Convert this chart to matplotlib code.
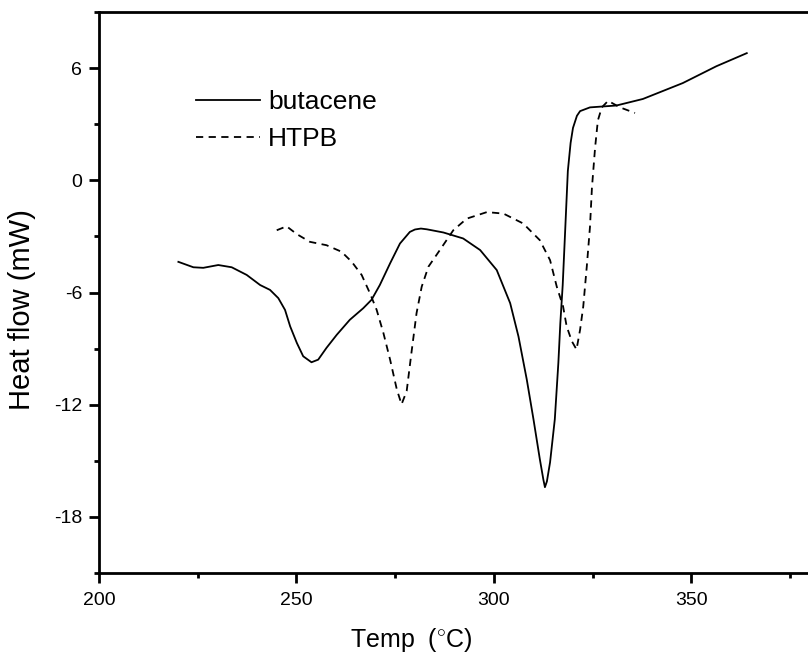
import numpy as np
import matplotlib
matplotlib.use("Agg")
import matplotlib.pyplot as plt
from matplotlib.ticker import MultipleLocator

plt.rcParams['font.family'] = ['Liberation Sans', 'DejaVu Sans']
plt.rcParams['mathtext.fontset'] = 'custom'
plt.rcParams['mathtext.rm'] = 'Liberation Sans'
plt.rcParams['axes.unicode_minus'] = False

# butacene DSC curve
but_t = [220.1, 223.9, 226.4, 230.2, 233.6, 237.4, 240.8, 243.3, 245.4, 247.1,
         248.4, 250.1, 251.7, 253.8, 255.5, 257.6, 260.2, 263.5, 266.9, 269.0,
         271.1, 273.7, 276.2, 278.7, 280.0, 281.5, 283.0, 287.2, 292.2, 296.5,
         300.7, 304.1, 306.2, 308.3, 310.0, 311.6, 312.5, 312.9, 313.4, 314.2,
         315.4, 316.3, 316.8, 317.4, 318.0, 318.7, 319.4, 320.0, 321.0, 321.8,
         324.3, 331.0, 337.7, 347.8, 356.3, 364.0]
but_q = [-4.36, -4.65, -4.68, -4.53, -4.65, -5.06, -5.60, -5.86, -6.30, -6.93,
         -7.81, -8.70, -9.41, -9.73, -9.59, -8.96, -8.26, -7.46, -6.84, -6.39,
         -5.60, -4.44, -3.38, -2.76, -2.63, -2.58, -2.62, -2.79, -3.11, -3.73,
         -4.80, -6.57, -8.35, -10.65, -12.78, -14.90, -16.0, -16.41, -16.1, -15.08,
         -12.78, -9.76, -7.63, -5.60, -2.8, 0.5, 2.0, 2.8, 3.45, 3.70,
         3.90, 4.00, 4.35, 5.20, 6.10, 6.80]

# HTPB DSC curve
htpb_t = [245.0, 247.5, 250.1, 253.4, 257.6, 261.4, 264.0, 266.5, 268.6, 270.3,
          272.0, 273.7, 275.4, 276.6, 277.9, 279.1, 280.4, 281.7, 283.4, 286.3,
          289.7, 293.1, 298.2, 302.4, 307.4, 311.6, 314.2, 315.9, 317.5, 318.4,
          319.7, 320.9, 321.8, 322.6, 323.5, 324.3, 324.8, 325.6, 326.3, 327.3,
          328.9, 331.9, 335.7]
htpb_q = [-2.67, -2.46, -2.88, -3.29, -3.47, -3.82, -4.36, -5.06, -6.04, -6.93,
          -8.16, -9.59, -11.18, -11.98, -11.27, -9.23, -7.10, -5.69, -4.62, -3.73,
          -2.67, -2.05, -1.70, -1.78, -2.31, -3.20, -4.27, -5.69, -6.75, -7.81,
          -8.60, -9.05, -7.99, -6.75, -4.60, -2.50, -0.40, 1.75, 3.20, 3.90,
          4.25, 3.90, 3.60]

fig = plt.figure(figsize=(8.08, 6.6), dpi=100)
ax = fig.add_axes([0.1225, 0.1318, 0.8775, 0.85])

ax.plot(but_t, but_q, color='black', lw=1.3, label='butacene')
ax.plot(htpb_t, htpb_q, color='black', lw=1.3, ls=(0, (4, 3)), label='HTPB')

ax.set_xlim(200, 379.5)
ax.set_ylim(-21, 9)
ax.xaxis.set_major_locator(MultipleLocator(50))
ax.xaxis.set_minor_locator(MultipleLocator(25))
ax.yaxis.set_major_locator(MultipleLocator(6))
ax.yaxis.set_minor_locator(MultipleLocator(3))
ax.tick_params(which='major', direction='out', length=7, width=2, labelsize=14)
ax.tick_params(axis='x', which='major', pad=7)
ax.tick_params(axis='y', which='major', pad=5)
ax.tick_params(which='minor', direction='out', length=3.5, width=2)
ax.spines['right'].set_visible(False)
for s in ['left', 'bottom', 'top']:
    ax.spines[s].set_linewidth(2)

ax.set_xlabel(r'Temp  ($^{\circ}$C)', fontsize=18)
ax.set_ylabel('Heat flow (mW)', fontsize=21)
ax.xaxis.set_label_coords(0.44, -0.094)
ax.yaxis.set_label_coords(-0.089, 0.47)

ax.legend(loc='upper left', bbox_to_anchor=(0.103, 0.903), frameon=False,
          fontsize=19, handlelength=2.45, handletextpad=0.3, labelspacing=0.5)

fig.savefig('out.png', dpi=100)
